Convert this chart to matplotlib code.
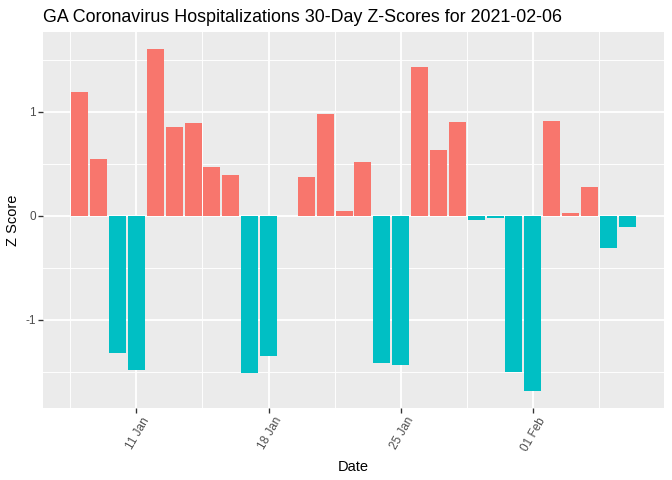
import matplotlib
matplotlib.use("Agg")
import matplotlib.pyplot as plt
import matplotlib.dates as mdates
import matplotlib.transforms as mtransforms
import numpy as np
import pandas as pd

plt.rcParams['font.family'] = ['Liberation Sans', 'DejaVu Sans']

dates = ["2021-01-08", "2021-01-09", "2021-01-10", "2021-01-11", "2021-01-12",
         "2021-01-13", "2021-01-14", "2021-01-15", "2021-01-16", "2021-01-17",
         "2021-01-18", "2021-01-20", "2021-01-21", "2021-01-22", "2021-01-23",
         "2021-01-24", "2021-01-25", "2021-01-26", "2021-01-27", "2021-01-28",
         "2021-01-29", "2021-01-30", "2021-01-31", "2021-02-01", "2021-02-02",
         "2021-02-03", "2021-02-04", "2021-02-05", "2021-02-06"]
zscores = [1.19, 0.545, -1.32, -1.483, 1.603,
           0.853, 0.891, 0.468, 0.391, -1.512,
           -1.346, 0.372, 0.978, 0.045, 0.516,
           -1.416, -1.435, 1.43, 0.632, 0.901,
           -0.041, -0.019, -1.503, -1.686, 0.910,
           0.026, 0.276, -0.311, -0.109]
tick_dates = ["2021-01-11", "2021-01-18", "2021-01-25", "2021-02-01"]
tick_labels = ["11 Jan", "18 Jan", "25 Jan", "01 Feb"]
title = "GA Coronavirus Hospitalizations 30-Day Z-Scores for 2021-02-06"

pos_color = "#F8766D"
neg_color = "#00BFC4"

x = mdates.date2num(pd.to_datetime(dates).to_pydatetime())
z = np.array(zscores)
colors = [pos_color if v > 0 else neg_color for v in z]

fig = plt.figure(figsize=(7, 5), dpi=96)
ax = fig.add_axes([43/672, 1 - 408/480, (664-43)/672, (408-32)/480])
ax.set_facecolor("#EBEBEB")

# limits with ggplot-like 5% expansion
xmin, xmax = x.min() - 0.45, x.max() + 0.45
xr = xmax - xmin
ax.set_xlim(xmin - 0.05*xr, xmax + 0.05*xr)
ymin, ymax = z.min(), z.max()
yr = ymax - ymin
ax.set_ylim(ymin - 0.05*yr, ymax + 0.05*yr)

ticks = mdates.date2num(pd.to_datetime(tick_dates).to_pydatetime())
minor = list(ticks - 3.5) + [ticks[-1] + 3.5]
ax.set_xticks(ticks)
ax.set_xticklabels(tick_labels)
ax.set_xticks(minor, minor=True)
ax.set_yticks([-1, 0, 1])
ax.set_yticklabels(["-1", "0", "1"])
ax.set_yticks([-1.5, -0.5, 0.5, 1.5], minor=True)

ax.grid(True, which='major', color='white', linewidth=1.42)
ax.grid(True, which='minor', color='white', linewidth=0.71)
ax.set_axisbelow(True)

ax.bar(x, z, width=0.9, color=colors, zorder=2)

for s in ax.spines.values():
    s.set_visible(False)

ax.tick_params(axis='both', which='major', length=3.5, width=1.0, color='#333333',
               labelsize=8.8, labelcolor='#4D4D4D', pad=2)
ax.tick_params(axis='both', which='minor', length=0)
offset = mtransforms.ScaledTranslation(5/96, 0, fig.dpi_scale_trans)
for lbl in ax.get_xticklabels():
    lbl.set_rotation(60)
    lbl.set_ha('right')
    lbl.set_va('top')
    lbl.set_rotation_mode('anchor')
    lbl.set_transform(lbl.get_transform() + offset)

ax.set_xlabel("Date", fontsize=11, color='black', labelpad=5)
ax.set_ylabel("Z Score", fontsize=11, color='black', labelpad=3.5)
fig.text(43/672, 1 - 22/480, title, fontsize=13.4, ha='left', va='baseline', color='black')

fig.savefig("out.png", dpi=96)
